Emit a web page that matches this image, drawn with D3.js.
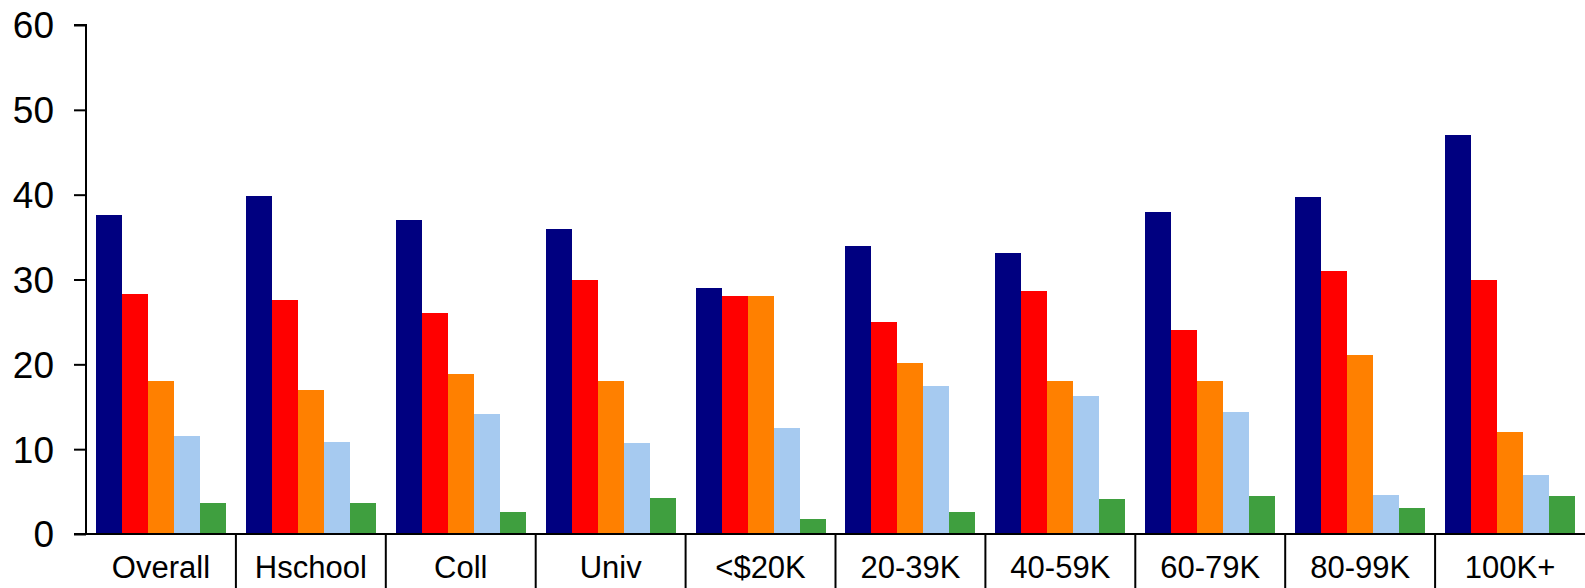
<!DOCTYPE html>
<html>
<head>
<meta charset="utf-8">
<script src="https://cdn.jsdelivr.net/npm/d3@7"></script>
<style>
  body { margin: 0; background: #fff; }
  svg { display: block; }
  .axis text { font-family: "Liberation Sans", Arial, sans-serif; fill: #000; }
</style>
</head>
<body>
<div class="chart"></div>
<script>
/* Chart data
--------------------------------------------------- */
const categories = ['Overall', 'Hschool', 'Coll', 'Univ', '<$20K', '20-39K', '40-59K', '60-79K', '80-99K', '100K+'];
const seriesNames = ['s1', 's2', 's3', 's4', 's5'];
const series1 = [37.6, 39.9, 37.0, 35.9, 29.0, 34.0, 33.1, 38.0, 39.7, 47.0];
const series2 = [28.3, 27.6, 26.0, 30.0, 28.1, 25.0, 28.6, 24.1, 31.0, 30.0];
const series3 = [18.0, 17.0, 18.9, 18.0, 28.1, 20.1, 18.0, 18.0, 21.1, 12.0];
const series4 = [11.6, 10.9, 14.2, 10.7, 12.5, 17.5, 16.3, 14.4, 4.6, 6.9];
const series5 = [3.7, 3.7, 2.6, 4.2, 1.8, 2.6, 4.1, 4.5, 3.1, 4.5];
const yTicks = [0, 10, 20, 30, 40, 50, 60];
const colors = ['#000080', '#ff0000', '#ff8000', '#a6caf0', '#3f9f3f'];

const allSeries = [series1, series2, series3, series4, series5];

/* Draw the chart
--------------------------------------------------- */
const width = 1585;
const height = 588;
const margin = { top: 25, right: 0, bottom: 54, left: 86 };
const innerW = width - margin.left - margin.right;
const innerH = height - margin.top - margin.bottom;

const svg = d3
  .select('.chart')
  .append('svg')
  .attr('width', width)
  .attr('height', height);

const g = svg.append('g').attr('transform', `translate(${margin.left},${margin.top})`);

const x = d3.scaleBand().domain(categories).range([0, innerW]).paddingInner(0).paddingOuter(0);
const x1 = d3
  .scaleBand()
  .domain(seriesNames)
  .range([0, x.bandwidth()])
  .paddingOuter(10 / 26)
  .paddingInner(0);
const y = d3.scaleLinear().domain([0, 60]).range([innerH, 0]);

const groups = g
  .selectAll('.group')
  .data(categories)
  .enter()
  .append('g')
  .attr('class', 'group')
  .attr('transform', d => `translate(${x(d)},0)`);

groups
  .selectAll('rect')
  .data((d, i) => allSeries.map((s, j) => ({ key: seriesNames[j], value: s[i], color: colors[j] })))
  .enter()
  .append('rect')
  .attr('x', d => x1(d.key))
  .attr('width', x1.bandwidth())
  .attr('y', d => y(d.value))
  .attr('height', d => innerH - y(d.value))
  .attr('fill', d => d.color)
  .attr('shape-rendering', 'crispEdges');

// y axis
const yAxis = g
  .append('g')
  .attr('class', 'axis')
  .call(d3.axisLeft(y).tickValues(yTicks).tickSize(12).tickPadding(20));
yAxis.selectAll('line').attr('stroke', '#000').attr('stroke-width', 2);
yAxis.select('.domain').attr('stroke', '#000').attr('stroke-width', 2).attr('d', `M-12,0H0V${innerH}H-12`);
yAxis.selectAll('text').attr('font-size', 37).attr('dy', '0.35em');

// x axis with category separators
const xAxis = g
  .append('g')
  .attr('class', 'axis')
  .attr('transform', `translate(0,${innerH})`);

xAxis
  .append('line')
  .attr('x1', 0)
  .attr('x2', innerW)
  .attr('stroke', '#000')
  .attr('stroke-width', 2);

xAxis
  .selectAll('.sep')
  .data(categories.slice(1))
  .enter()
  .append('line')
  .attr('class', 'sep')
  .attr('x1', d => x(d))
  .attr('x2', d => x(d))
  .attr('y1', 0)
  .attr('y2', margin.bottom)
  .attr('stroke', '#000')
  .attr('stroke-width', 2);

xAxis
  .selectAll('.label')
  .data(categories)
  .enter()
  .append('text')
  .attr('class', 'label')
  .attr('x', d => x(d) + x.bandwidth() / 2)
  .attr('y', 44)
  .attr('text-anchor', 'middle')
  .attr('font-size', 31)
  .text(d => d);
</script>
</body>
</html>
